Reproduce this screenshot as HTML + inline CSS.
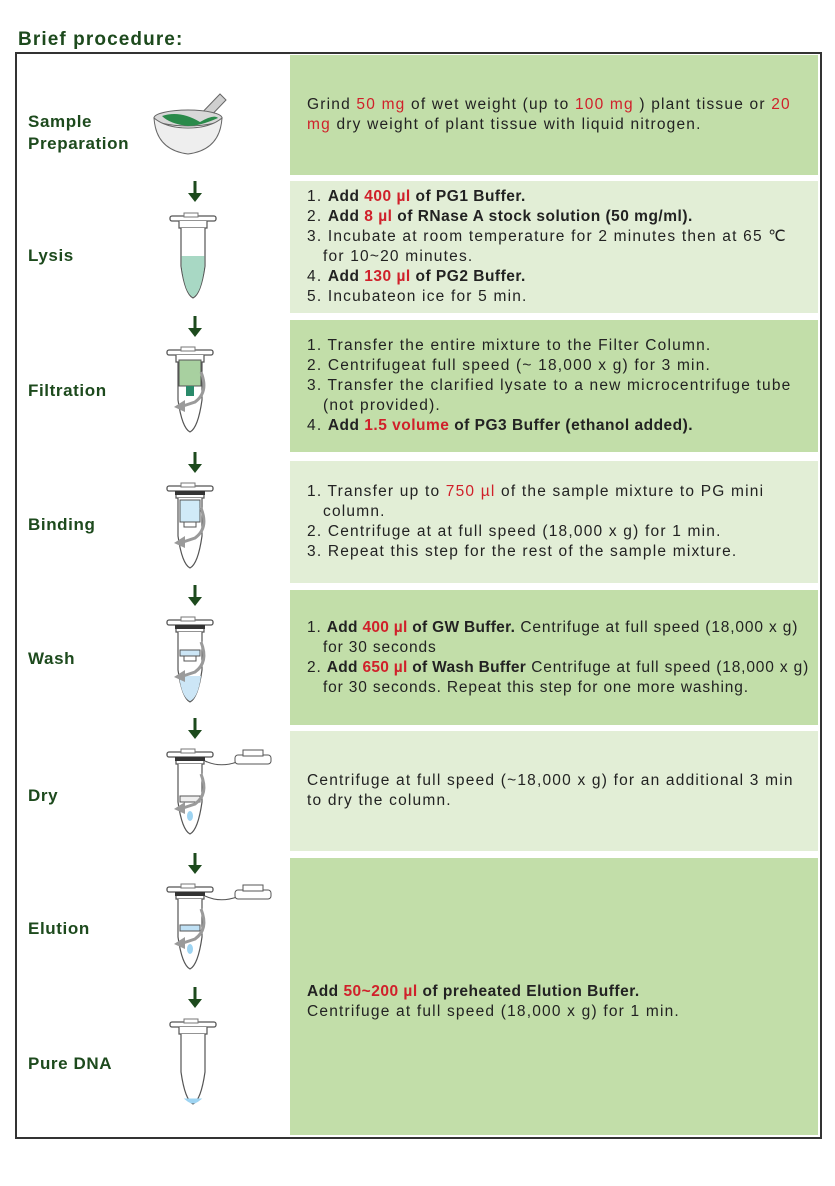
<!DOCTYPE html>
<html><head><meta charset="utf-8"><style>
body{margin:0;width:835px;height:1186px;background:#fff;font-family:"Liberation Sans",sans-serif;position:relative;overflow:hidden}
.t{position:absolute;left:18px;top:29px;font-size:19px;font-weight:bold;color:#1d4a1d;letter-spacing:1.1px}
.frame{position:absolute;left:15px;top:52px;width:803px;height:1083px;border:2px solid #333}
.box{position:absolute;left:290px;width:528px;box-sizing:border-box;padding-left:17px;font-size:15.5px;letter-spacing:1.2px;color:#222;line-height:20px;white-space:nowrap;display:flex;flex-direction:column;justify-content:center;overflow:hidden}
.d{background:#c2dea9}.l{background:#e2eed6}
.lab{position:absolute;left:28px;font-size:17px;font-weight:bold;color:#1d4a1d;line-height:22px;letter-spacing:0.6px}
.r{color:#d0202a}
b{font-weight:bold;letter-spacing:0.5px}
.in{padding-left:16px}
.ar{position:absolute;left:186px;width:18px;height:22px}
svg.ic{position:absolute}
.w{letter-spacing:0.85px}
.w b{letter-spacing:0.3px}
</style></head><body>
<div class="t">Brief procedure:</div>
<div class="frame"></div>

<div class="box d" style="top:55px;height:120px">
<div>Grind <span class="r">50 mg</span> of wet weight (up to <span class="r">100 mg</span> ) plant tissue or <span class="r">20</span></div>
<div><span class="r">mg</span> dry weight of plant tissue with liquid nitrogen.</div></div>
<div class="box l" style="top:181px;height:132px">
<div>1. <b>Add <span class="r">400 µl</span> of PG1 Buffer.</b></div>
<div>2. <b>Add <span class="r">8 µl</span> of RNase A stock solution (50 mg/ml).</b></div>
<div>3. Incubate at room temperature for 2 minutes then at 65 ℃</div>
<div class="in">for 10~20 minutes.</div>
<div>4. <b>Add <span class="r">130 µl</span> of PG2 Buffer.</b></div>
<div>5. Incubateon ice for 5 min.</div></div>
<div class="box d" style="top:320px;height:132px">
<div>1. Transfer the entire mixture to the Filter Column.</div>
<div>2. Centrifugeat full speed (~ 18,000 x g) for 3 min.</div>
<div>3. Transfer the clarified lysate to a new microcentrifuge tube</div>
<div class="in">(not provided).</div>
<div>4. <b>Add <span class="r">1.5 volume</span> of PG3 Buffer (ethanol added).</b></div></div>
<div class="box l" style="top:461px;height:122px">
<div>1. Transfer up to <span class="r">750 µl</span> of the sample mixture to PG mini</div>
<div class="in">column.</div>
<div>2. Centrifuge at at full speed (18,000 x g) for 1 min.</div>
<div>3. Repeat this step for the rest of the sample mixture.</div></div>
<div class="box d w" style="top:590px;height:135px">
<div>1. <b>Add <span class="r">400 µl</span> of GW Buffer.</b> Centrifuge at full speed (18,000 x g)</div>
<div class="in">for 30 seconds</div>
<div>2. <b>Add <span class="r">650 µl</span> of Wash Buffer</b> Centrifuge at full speed (18,000 x g)</div>
<div class="in">for 30 seconds. Repeat this step for one more washing.</div></div>
<div class="box l" style="top:731px;height:120px">
<div>Centrifuge at full speed (~18,000 x g) for an additional 3 min</div>
<div>to dry the column.</div></div>
<div class="box d" style="top:858px;height:277px;padding-top:10px">
<div><b>Add <span class="r">50~200 µl</span> of preheated Elution Buffer.</b></div>
<div>Centrifuge at full speed (18,000 x g) for 1 min.</div></div>

<div class="lab" style="top:111px">Sample<br>Preparation</div>
<div class="lab" style="top:245px">Lysis</div>
<div class="lab" style="top:380px">Filtration</div>
<div class="lab" style="top:514px">Binding</div>
<div class="lab" style="top:648px">Wash</div>
<div class="lab" style="top:785px">Dry</div>
<div class="lab" style="top:918px">Elution</div>
<div class="lab" style="top:1053px">Pure DNA</div>

<svg width="0" height="0" style="position:absolute"><defs>
<g id="arw"><rect x="7.5" y="0" width="3" height="14" fill="#1d4a1d"/><polygon points="2,12 16,12 9,21" fill="#1d4a1d"/></g>
<g id="tube"><rect x="2" y="0" width="46" height="5" rx="2" fill="#fff" stroke="#555" stroke-width="1.3"/><rect x="16" y="-3" width="14" height="4" fill="#fff" stroke="#777"/><path d="M11 5 V12 H39 V5" fill="#fff" stroke="#555" stroke-width="1.2"/><path d="M13 12 V50 Q17 78 25 82 Q33 78 37 50 V12" fill="#fff" stroke="#555" stroke-width="1.2"/></g>
<g id="rot"><path d="M36 22 Q44 42 30 52 L18 56" fill="none" stroke="#9a9a9a" stroke-width="3"/><polygon points="20,50 9,57 20,62" fill="#9a9a9a"/></g>
</defs></svg>
<svg class="ar" style="top:181px"><use href="#arw"/></svg>
<svg class="ar" style="top:316px"><use href="#arw"/></svg>
<svg class="ar" style="top:452px"><use href="#arw"/></svg>
<svg class="ar" style="top:585px"><use href="#arw"/></svg>
<svg class="ar" style="top:718px"><use href="#arw"/></svg>
<svg class="ar" style="top:853px"><use href="#arw"/></svg>
<svg class="ar" style="top:987px"><use href="#arw"/></svg>

<svg class="ic" style="left:150px;top:88px" width="85" height="72">
<polygon points="44,33 70,6 76,12 52,37" fill="#cfcfcf" stroke="#666"/>
<ellipse cx="38" cy="30" rx="34" ry="8" fill="#d8d8d8" stroke="#666"/>
<path d="M12 28 Q30 22 50 34 Q64 26 68 30 Q50 38 38 38 Q20 36 12 28Z" fill="#2a8a4a"/>
<path d="M4 30 Q6 62 38 66 Q70 62 72 30 Q60 40 38 40 Q16 40 4 30Z" fill="#eee" stroke="#666"/>
</svg>
<svg class="ic" style="left:168px;top:212px" width="60" height="92"><g transform="translate(0,4)"><use href="#tube"/><path d="M13.6 40 V50 Q17 78 25 81 Q33 78 36.4 50 V40Z" fill="#a8d8c4"/></g></svg>
<svg class="ic" style="left:165px;top:346px" width="60" height="92"><g transform="translate(0,4)"><use href="#tube"/><rect x="14" y="10" width="22" height="26" fill="#a8d0a0" stroke="#555"/><rect x="21" y="36" width="8" height="10" fill="#2a8a6a"/><use href="#rot"/></g></svg>
<svg class="ic" style="left:165px;top:482px" width="60" height="92"><g transform="translate(0,4)"><use href="#tube"/><rect x="10" y="5" width="30" height="4" fill="#333"/><rect x="15" y="14" width="20" height="22" fill="#d0eaf8" stroke="#555"/><rect x="19" y="36" width="12" height="5" fill="#fff" stroke="#555"/><use href="#rot"/></g></svg>
<svg class="ic" style="left:165px;top:616px" width="60" height="92"><g transform="translate(0,4)"><use href="#tube"/><rect x="10" y="5" width="30" height="4" fill="#333"/><rect x="15" y="30" width="20" height="6" fill="#cce6f6" stroke="#555"/><rect x="19" y="36" width="12" height="5" fill="#fff" stroke="#555"/><path d="M14 56 Q17 78 25 81 Q33 78 36 56Z" fill="#cce6f6"/><use href="#rot"/></g></svg>
<svg class="ic" style="left:165px;top:748px" width="110" height="92"><g transform="translate(0,4)"><use href="#tube"/><rect x="10" y="5" width="30" height="4" fill="#333"/><path d="M40 9 Q55 16 72 10" fill="none" stroke="#555"/><rect x="70" y="3" width="36" height="9" rx="3" fill="#fff" stroke="#555"/><rect x="78" y="-2" width="20" height="6" fill="#fff" stroke="#555"/><rect x="15" y="44" width="20" height="6" fill="#eee" stroke="#555"/><ellipse cx="25" cy="64" rx="3" ry="5" fill="#9ed4f2"/><use href="#rot"/></g></svg>
<svg class="ic" style="left:165px;top:883px" width="110" height="92"><g transform="translate(0,4)"><use href="#tube"/><rect x="10" y="5" width="30" height="4" fill="#333"/><path d="M40 9 Q55 16 72 10" fill="none" stroke="#555"/><rect x="70" y="3" width="36" height="9" rx="3" fill="#fff" stroke="#555"/><rect x="78" y="-2" width="20" height="6" fill="#fff" stroke="#555"/><rect x="15" y="38" width="20" height="6" fill="#bfe0f4" stroke="#555"/><ellipse cx="25" cy="62" rx="3" ry="5" fill="#9ed4f2"/><use href="#rot"/></g></svg>
<svg class="ic" style="left:168px;top:1018px" width="60" height="92"><g transform="translate(0,4)"><use href="#tube"/><path d="M20 78 Q25 82 30 78Z" fill="#9ed4f2" stroke="#9ed4f2" stroke-width="3"/></g></svg>
</body></html>
